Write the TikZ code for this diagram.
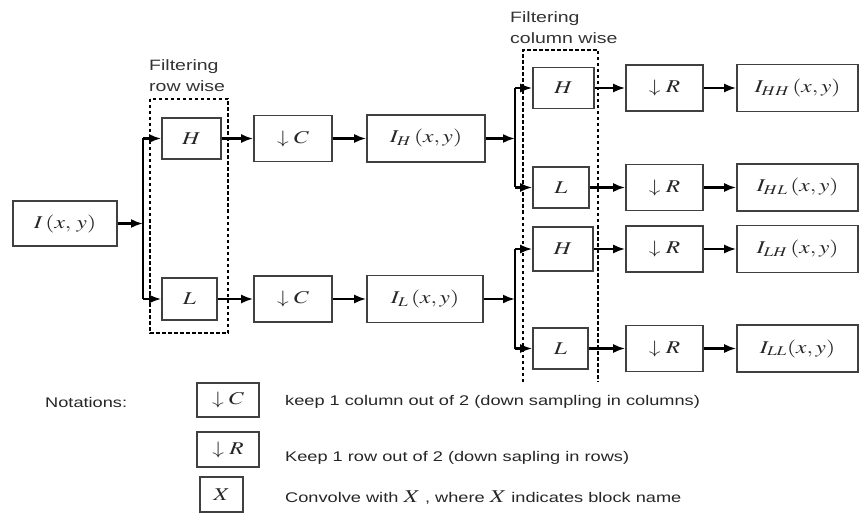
\documentclass[tikz,border=0pt]{standalone}
\usepackage{mathptmx}
\usepackage[no-math]{fontspec}
\setmainfont{Liberation Sans}[FakeStretch=1.3]
\usetikzlibrary{arrows.meta}
\newcommand\wm[1]{\scalebox{1.3}[1]{$#1$}}
\tikzset{
  blk/.style={draw=black!75, line width=1.6pt, inner sep=0pt, text=black!85, font=\fontsize{18}{20}\selectfont},
  arr/.style={line width=2.2pt, -{Latex[length=12pt,width=9pt]}},
  wire/.style={line width=2.2pt},
  dbox/.style={line width=2.4pt, dash pattern=on 3.5pt off 2.5pt},
  captxt/.style={align=left, inner sep=0pt, anchor=west, text=black!80, font=\fontsize{15}{21}\selectfont},
  notetxt/.style={inner sep=0pt, anchor=west, text=black!85, font=\fontsize{14}{16}\selectfont}
}
\begin{document}
\begin{tikzpicture}[x=1pt,y=-1pt]
\path[use as bounding box] (0,0) rectangle (859,513);
% left part
\node[blk, minimum width=104pt, minimum height=45pt] (in) at (65,223.5) {\wm{I\,(x,\,y)}};
\node[blk, minimum width=59pt, minimum height=41pt] (H1) at (191.5,138.5) {\wm{H}};
\node[blk, minimum width=55pt, minimum height=42pt] (L1) at (189.5,299) {\wm{L}};
\node[blk, minimum width=78pt, minimum height=46pt] (DC1) at (293,138.5) {\wm{\downarrow C}};
\node[blk, minimum width=78pt, minimum height=46pt] (DC2) at (293,299) {\wm{\downarrow C}};
\node[blk, minimum width=118pt, minimum height=47pt] (IH) at (426,138.5) {\wm{I_{H}\,(x,y)}};
\node[blk, minimum width=116pt, minimum height=47pt] (IL) at (425,299) {\wm{I_{L}\,(x,y)}};
\coordinate (s1) at (143,223.5);
\coordinate (s1t) at (143,138.5);
\coordinate (s1b) at (143,299);
\draw[arr] (in) -- (s1);
\draw[wire] (s1t) -- (s1b);
\draw[arr] (s1t) -- (H1);
\draw[arr] (s1b) -- (L1);
\draw[arr] (H1) -- (DC1);
\draw[arr] (L1) -- (DC2);
\draw[arr] (DC1) -- (IH);
\draw[arr] (DC2) -- (IL);
\draw[dbox] (150,99) rectangle (228,333);
\node[captxt] (cap1) at (149,76) {Filtering\\row wise};
% right part
\node[blk, minimum width=61pt, minimum height=41pt] (H2a) at (563.5,88) {\wm{H}};
\node[blk, minimum width=56pt, minimum height=41pt] (L2a) at (561,187.5) {\wm{L}};
\node[blk, minimum width=60pt, minimum height=44pt] (H2b) at (563,249) {\wm{H}};
\node[blk, minimum width=55pt, minimum height=41pt] (L2b) at (560.5,348.5) {\wm{L}};
\foreach \n/\y in {a/88,b/187.5,c/249,d/348.5}{
  \node[blk, minimum width=77pt, minimum height=46pt] (DR\n) at (664.5,\y) {\wm{\downarrow R}};
}
\node[blk, minimum width=121pt, minimum height=47pt] (Oa) at (797.5,88) {\wm{I_{HH}\,(x,y)}};
\node[blk, minimum width=121pt, minimum height=47pt] (Ob) at (797.5,187.5) {\wm{I_{HL}\,(x,y)}};
\node[blk, minimum width=121pt, minimum height=47pt] (Oc) at (797.5,249) {\wm{I_{LH}\,(x,y)}};
\node[blk, minimum width=121pt, minimum height=47pt] (Od) at (797.5,348.5) {\wm{I_{LL}(x,y)}};
\coordinate (s2) at (515,138.5);
\coordinate (s2t) at (515,88);
\coordinate (s2b) at (515,187.5);
\coordinate (s3) at (515,299);
\coordinate (s3t) at (515,249);
\coordinate (s3b) at (515,348.5);
\draw[arr] (IH) -- (s2);
\draw[arr] (IL) -- (s3);
\draw[wire] (s2t) -- (s2b);
\draw[wire] (s3t) -- (s3b);
\draw[arr] (s2t) -- (H2a);
\draw[arr] (s2b) -- (L2a);
\draw[arr] (s3t) -- (H2b);
\draw[arr] (s3b) -- (L2b);
\draw[arr] (H2a) -- (DRa);
\draw[arr] (L2a) -- (DRb);
\draw[arr] (H2b) -- (DRc);
\draw[arr] (L2b) -- (DRd);
\draw[arr] (DRa) -- (Oa);
\draw[arr] (DRb) -- (Ob);
\draw[arr] (DRc) -- (Oc);
\draw[arr] (DRd) -- (Od);
\draw[dbox] (523,382) -- (523,50) -- (598,50) -- (598,382);
\node[captxt] (cap2) at (510,27.5) {Filtering\\column wise};
% legend
\node[notetxt] (nt) at (45,402) {Notations:};
\node[blk, minimum width=62pt, minimum height=34pt] (LC) at (228,400) {\wm{\downarrow C}};
\node[blk, minimum width=62pt, minimum height=35pt] (LR) at (228,449.5) {\wm{\downarrow R}};
\node[blk, minimum width=43pt, minimum height=35pt] (LX) at (221.5,494.5) {\wm{X}};
\node[notetxt] (tC) at (285,402) {keep 1 column out of 2 (down sampling in columns)};
\node[notetxt] (tR) at (285,458) {Keep 1 row out of 2 (down sapling in rows)};
\node[notetxt] (tX) at (285,498) {Convolve with {\fontsize{18}{20}\selectfont\wm{X}} , where {\fontsize{18}{20}\selectfont\wm{X}} indicates block name};
\end{tikzpicture}
\end{document}
